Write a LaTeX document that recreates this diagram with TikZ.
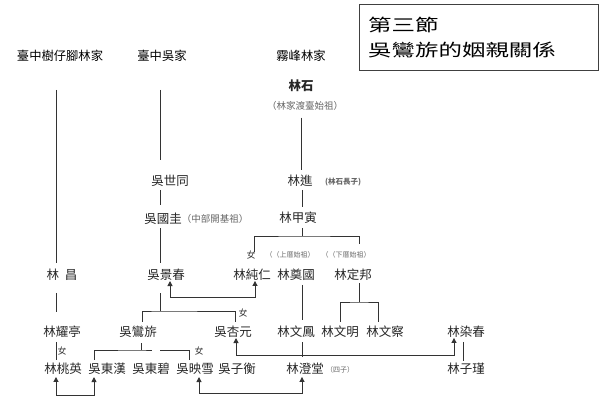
\documentclass[tikz,border=0pt]{standalone}
\usepackage{fontspec}
\usepackage{graphicx}
\setmainfont{Noto Sans CJK TC}
\usetikzlibrary{arrows.meta}
\begin{document}
\begin{tikzpicture}[x=1pt,y=-1pt,
  person/.style={inner sep=0pt, font=\fontsize{12.5}{14}\selectfont, text=black!85},
  head/.style={inner sep=0pt, font=\fontsize{12.3}{14}\selectfont, text=black},
  note/.style={inner sep=0pt, font=\fontsize{9.5}{11}\selectfont, text=black!60},
  tinynote/.style={inner sep=0pt, font=\fontsize{7}{8}\selectfont, text=black!60},
  fem/.style={inner sep=0pt, font=\fontsize{9}{10}\selectfont, text=black!80},
  link/.style={draw=black!80, line width=1pt},
  arr/.style={link, {Triangle[length=5pt,width=5pt]}-{Triangle[length=5pt,width=5pt]}},
  titlebox/.style={draw=black!75, line width=1pt},
  titletext/.style={inner sep=0pt, anchor=west, font=\fontsize{17}{19}\selectfont, text=black},
]
\useasboundingbox (0,0) rectangle (599,407);

% title box
\draw[titlebox] (359,4) rectangle (598,70);
\node[titletext] (t1) at (368,25) {\scalebox{1.38}[1]{第三節}};
\node[titletext] (t2) at (368,50) {\scalebox{1.38}[1]{吳鸞旂的姻親關係}};

% family headers
\node[head] (h1) at (60,56) {臺中樹仔腳林家};
\node[head] (h2) at (162,56) {臺中吳家};
\node[head] (h3) at (301,56) {霧峰林家};

% people
\node[person, font=\fontsize{12.5}{14}\selectfont\bfseries] (ls) at (301,86) {林石};
\node[note] (lsn) at (305,106) {（林家渡臺始祖）};
\node[person] (wst) at (170,181) {吳世同};
\node[person] (lj) at (300,181) {林進};
\node[tinynote, font=\fontsize{7.5}{8}\selectfont\bfseries] (ljn) at (343,182) {(林石長子)};
\node[person] (wgg) at (163,219) {吳國圭};
\node[note] (wggn) at (215,219) {（中部開基祖）};
\node[person] (ljy) at (298,218) {林甲寅};
\node[fem] (f1) at (251,255) {女};
\node[tinynote] (shn) at (290,255) {（（上厝始祖）};
\node[tinynote] (xhn) at (346,255) {（（下厝始祖）};

\node[person] (lc) at (62,275) {林\hspace{0.45em}昌};
\node[person] (wjc) at (166,275) {吳景春};
\node[person] (lcr) at (252,275) {林純仁};
\node[person] (ldg) at (296,275) {林奠國};
\node[person] (ldb) at (353,275) {林定邦};

\node[fem] (f2) at (243,313) {女};
\node[person] (lyt) at (62,332) {林耀亭};
\node[person] (wlq) at (138,332) {吳鸞旂};
\node[person] (wxy) at (233,332) {吳杏元};
\node[person] (lwf) at (296,332) {林文鳳};
\node[person] (lwm) at (340,332) {林文明};
\node[person] (lwc) at (385,332) {林文察};
\node[person] (lrc) at (466,332) {林染春};

\node[fem] (f3) at (62,351) {女};
\node[fem] (f4) at (199,351) {女};
\node[person] (lty) at (63,369) {林桃英};
\node[person] (wdh) at (107,369) {吳東漢};
\node[person] (wdb) at (151,369) {吳東碧};
\node[person] (wyx) at (195,369) {吳映雪};
\node[person] (wzh) at (237,369) {吳子衡};
\node[person] (lct) at (305,369) {林澄堂};
\node[tinynote] (lctn) at (340,370) {（四子）};
\node[person] (lzj) at (466,369) {林子瑾};

% junction points
\coordinate (jy) at (302,236);
\coordinate (jc) at (160,311);
\coordinate (jd) at (359,302);
\coordinate (jq) at (141,350);

% descent lines
\draw[link] ([xshift=-4pt,yshift=-28pt]h1.south) -- ([xshift=-6pt,yshift=6pt]lc.north);
\draw[link] ([xshift=-2pt,yshift=-28pt]h2.south) -- ([xshift=-10pt,yshift=15pt]wst.north);
\draw[link] ([xshift=-4pt,yshift=-7pt]lsn.south) -- ([xshift=1pt,yshift=5pt]lj.north);
\draw[link] ([xshift=-10pt,yshift=-3pt]wst.south) -- ([xshift=-3pt,yshift=8pt]wgg.north);
\draw[link] ([xshift=2pt,yshift=-3pt]lj.south) -- ([xshift=4pt,yshift=5pt]ljy.north);
\draw[link] ([xshift=-3pt,yshift=-3pt]wgg.south) -- ([xshift=-6pt,yshift=6pt]wjc.north);
\draw[link] ([xshift=4pt,yshift=-4pt]ljy.south) -- (jy);
\draw[link] ([xshift=2pt,yshift=17pt]lcr.north) |- (jy) -| ([xshift=6pt,yshift=25pt]ldb.north);

\draw[link] ([xshift=-6pt,yshift=-12pt]lc.south) -- ([xshift=-6pt,yshift=14pt]lyt.north);
\draw[link] ([xshift=-6pt,yshift=-12pt]wjc.south) -- (jc);
\draw[link] ([xshift=4pt,yshift=4pt]wlq.north) |- (jc) -| ([xshift=2pt,yshift=4pt]wxy.north);
\draw[link] ([xshift=6pt,yshift=-4pt]ldg.south) -- ([xshift=6pt,yshift=6pt]lwf.north);
\draw[link] ([xshift=6pt,yshift=-2pt]ldb.south) -- (jd);
\draw[link] ([yshift=4pt]lwm.north) |- (jd) -| ([xshift=-7pt,yshift=4pt]lwc.north);

\draw[link] ([xshift=-6pt,yshift=-4pt]lyt.south) -- ([xshift=-7pt,yshift=3pt]lty.north);
\draw[link] ([xshift=3pt,yshift=-5pt]wlq.south) -- (jq);
\draw[link] ([xshift=-13pt,yshift=3pt]wdh.north) |- (jq) -- ++(11,0);
\draw[link] ([xshift=-6pt,yshift=3pt]wyx.north) |- ([xshift=19pt]jq);
\draw[link] ([xshift=6pt,yshift=-4pt]lwf.south) -- ([xshift=-3pt,yshift=6pt]lct.north);
\draw[link] ([xshift=-3pt,yshift=-4pt]lrc.south) -- ([xshift=-3pt,yshift=2pt]lzj.north);

% marriage arrows
\draw[arr] ([xshift=4pt]wjc.south) -- ++(0,16) -| ([xshift=3pt]lcr.south);
\draw[arr] ([xshift=3pt]wxy.south) -- ++(0,17) -| ([xshift=-12pt]lrc.south);
\draw[arr] ([xshift=-7pt,yshift=-2pt]lty.south) -- ++(0,19) -| ([xshift=-13pt,yshift=-2pt]wdh.south);
\draw[arr] ([xshift=4pt,yshift=-2pt]wyx.south) -- ++(0,16) -| ([xshift=-3pt,yshift=-2pt]lct.south);
\end{tikzpicture}
\end{document}
